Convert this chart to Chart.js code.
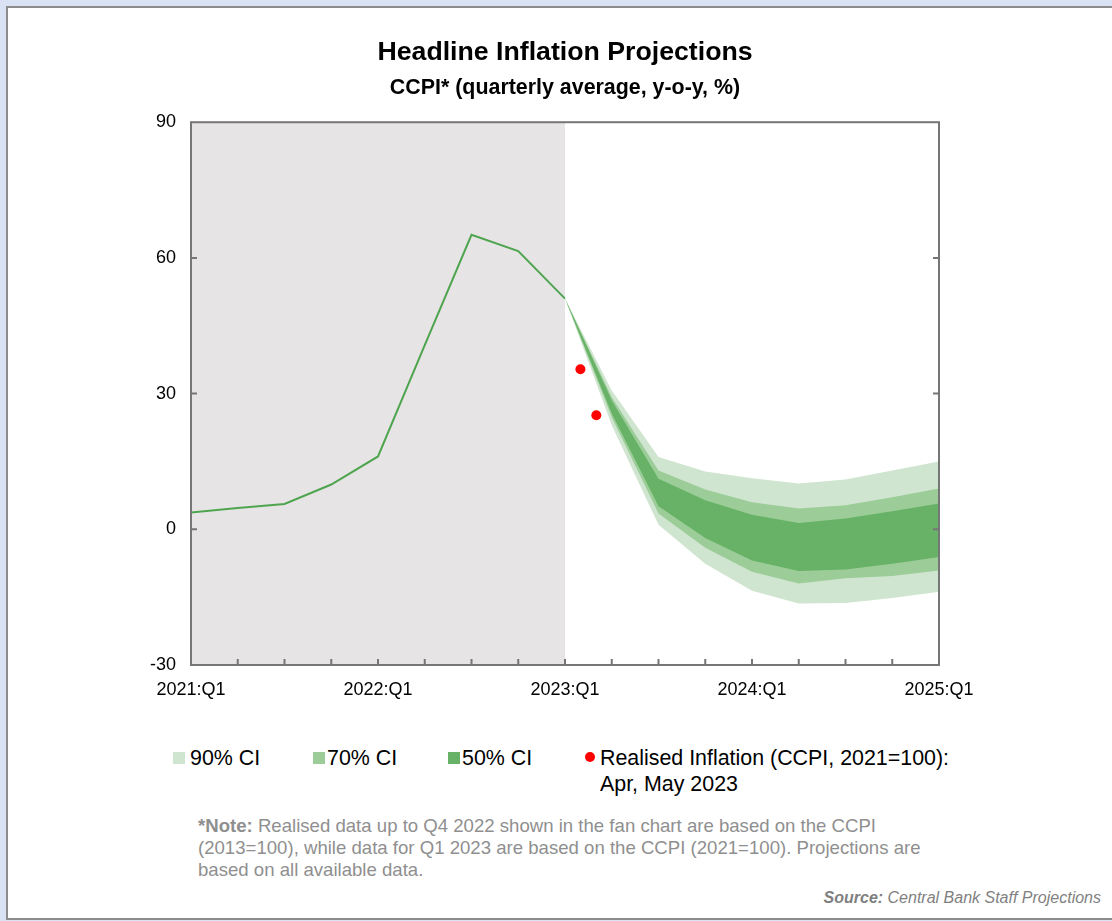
<!DOCTYPE html>
<html>
<head>
<meta charset="utf-8">
<title>Headline Inflation Projections</title>
<script src="https://cdn.jsdelivr.net/npm/chart.js@4.4.1/dist/chart.umd.min.js"></script>
<style>
  html, body { margin: 0; padding: 0; }
  body {
    width: 1112px; height: 921px; position: relative; overflow: hidden;
    background: #d9e2f3; font-family: "Liberation Sans", Arial, sans-serif;
  }
  .cadre {
    position: absolute; left: 6px; top: 6px; width: 1200px; height: 914px;
    background: #fff; border: 2px solid #8c8c8c; box-sizing: border-box;
  }
  #zoneGraph { position: absolute; left: 0; top: 0; width: 1112px; height: 720px; }
  .legende { position: absolute; font-size: 21.4px; line-height: 26px; color: #000; white-space: nowrap; }
  .carre { position: absolute; width: 12px; height: 12px; }
  .point { position: absolute; width: 10px; height: 10px; border-radius: 50%; background: #ff0000; }
  .note {
    position: absolute; left: 198px; top: 815px; font-size: 18.6px; line-height: 22px;
    color: #8f8f8f; white-space: nowrap;
  }
  .source {
    position: absolute; right: 11px; top: 889px; font-size: 16px; line-height: 18px;
    color: #7f7f7f; font-style: italic; white-space: nowrap;
  }
</style>
</head>
<body>
<div class="cadre"></div>
<div id="zoneGraph"><canvas id="graphInflation"></canvas></div>

<!-- Légende -->
<div class="carre" style="left:173px; top:752px; background:#cfe5cf;"></div>
<div class="legende" style="left:190px; top:745px;">90% CI</div>
<div class="carre" style="left:313px; top:752px; background:#9ccd99;"></div>
<div class="legende" style="left:327px; top:745px;">70% CI</div>
<div class="carre" style="left:448px; top:752px; background:#67b266;"></div>
<div class="legende" style="left:462px; top:745px;">50% CI</div>
<div class="point" style="left:585px; top:752px;"></div>
<div class="legende" style="left:600px; top:745px;">Realised Inflation (CCPI, 2021=100):<br>Apr, May 2023</div>

<div class="note"><b>*Note:</b> Realised data up to Q4 2022 shown in the fan chart are based on the CCPI<br>(2013=100), while data for Q1 2023 are based on the CCPI (2021=100). Projections are<br>based on all available data.</div>
<div class="source"><b>Source:</b> Central Bank Staff Projections</div>

<script>
// ==================== DONNÉES ====================

const quarters = [
  '2021:Q1', '2021:Q2', '2021:Q3', '2021:Q4',
  '2022:Q1', '2022:Q2', '2022:Q3', '2022:Q4',
  '2023:Q1', '2023:Q2', '2023:Q3', '2023:Q4',
  '2024:Q1', '2024:Q2', '2024:Q3', '2024:Q4',
  '2025:Q1'
];

// CCPI réalisé, 2021:Q1 -> 2023:Q1
const realised = [3.7, 4.7, 5.6, 9.9, 16.1, 40.7, 65.1, 61.5, 51.0];

// Bandes de projection, 2023:Q1 -> 2025:Q1
const fanStart = 8;
const ci90Upper = [51.0, 30.7, 16.0, 12.8, 11.3, 10.1, 11.0, 13.0, 15.0];
const ci70Upper = [51.0, 29.2, 13.0, 8.8, 6.0, 4.6, 5.3, 7.1, 9.0];
const ci50Upper = [51.0, 28.5, 11.2, 6.4, 3.2, 1.4, 2.4, 4.0, 5.7];
const ci50Lower = [51.0, 25.6, 5.1, -1.9, -6.9, -9.2, -8.9, -7.6, -6.1];
const ci70Lower = [51.0, 24.8, 3.5, -4.1, -9.4, -12.0, -10.8, -10.3, -9.1];
const ci90Lower = [51.0, 23.0, 1.0, -7.6, -13.6, -16.4, -16.3, -15.2, -13.8];

// Inflation mensuelle réalisée (avril, mai 2023)
const monthPos = [8.33, 8.67];
const monthValues = [35.4, 25.2];

const yTicks = [-30, 0, 30, 60, 90];

// ==================== PLUGIN CADRE ====================

const police = '"Liberation Sans", Arial, sans-serif';

const cadrePlugin = {
  id: 'cadre',
  beforeDatasetsDraw(chart) {
    // zone grisée des données réalisées
    const { ctx, chartArea: a, scales: { x } } = chart;
    const x0 = x.getPixelForValue(0);
    const x1 = x.getPixelForValue(fanStart);
    ctx.save();
    ctx.fillStyle = '#e6e4e4';
    ctx.fillRect(x0, a.top, x1 - x0, a.bottom - a.top);
    ctx.restore();
  },
  afterDatasetsDraw(chart) {
    const { ctx, chartArea: a, scales: { x, y } } = chart;
    ctx.save();
    ctx.strokeStyle = '#767676';
    ctx.lineWidth = 2;
    ctx.strokeRect(a.left, a.top, a.right - a.left, a.bottom - a.top);
    ctx.beginPath();
    for (let q = 1; q < quarters.length - 1; q++) {
      const px = x.getPixelForValue(q);
      ctx.moveTo(px, a.bottom);
      ctx.lineTo(px, a.bottom - 6);
    }
    yTicks.slice(1, -1).forEach(v => {
      const py = y.getPixelForValue(v);
      ctx.moveTo(a.left, py);
      ctx.lineTo(a.left + 6, py);
      ctx.moveTo(a.right, py);
      ctx.lineTo(a.right - 6, py);
    });
    ctx.stroke();
    ctx.restore();
  }
};

// ==================== GRAPHIQUE ====================

const versPoints = (valeurs, debut) => valeurs.map((v, i) => ({ x: debut + i, y: v }));

function bande(valeurs, couleur, remplir) {
  return {
    data: versPoints(valeurs, fanStart),
    borderWidth: 0,
    pointRadius: 0,
    backgroundColor: couleur,
    fill: remplir ? '+1' : false
  };
}

new Chart(document.getElementById('graphInflation'), {
  type: 'line',
  data: {
    datasets: [
      {
        data: versPoints(realised, 0),
        borderColor: '#4fa54f',
        borderWidth: 2,
        pointRadius: 0,
        fill: false
      },
      {
        data: monthPos.map((p, i) => ({ x: p, y: monthValues[i] })),
        showLine: false,
        pointRadius: 5,
        pointBackgroundColor: '#ff0000',
        pointBorderWidth: 0
      },
      bande(ci50Upper, '#67b266', true),
      bande(ci50Lower, '#67b266', false),
      bande(ci70Upper, '#9ccd99', true),
      bande(ci70Lower, '#9ccd99', false),
      bande(ci90Upper, '#cfe5cf', true),
      bande(ci90Lower, '#cfe5cf', false)
    ]
  },
  options: {
    responsive: true,
    maintainAspectRatio: false,
    animation: false,
    layout: { padding: { left: 0, right: 173, top: 0, bottom: 15 } },
    plugins: {
      legend: { display: false },
      tooltip: { enabled: false },
      title: {
        display: true,
        fullSize: false,
        text: 'Headline Inflation Projections',
        color: '#000',
        font: { family: police, size: 26.7, weight: 'bold' },
        padding: { top: 37, bottom: 6 }
      },
      subtitle: {
        display: true,
        fullSize: false,
        text: 'CCPI* (quarterly average, y-o-y, %)',
        color: '#000',
        font: { family: police, size: 21.4, weight: 'bold' },
        padding: { top: 0, bottom: 21.5 }
      }
    },
    scales: {
      x: {
        type: 'linear',
        min: 0,
        max: quarters.length - 1,
        grid: { display: false, drawTicks: false },
        border: { display: false },
        ticks: {
          stepSize: 4,
          autoSkip: false,
          maxRotation: 0,
          padding: 14,
          color: '#000',
          font: { family: police, size: 18 },
          callback: v => quarters[v]
        },
        afterFit: s => { s.height = 40; }
      },
      y: {
        min: yTicks[0],
        max: yTicks[yTicks.length - 1],
        grid: { display: false, drawTicks: false },
        border: { display: false },
        ticks: {
          stepSize: 30,
          padding: 15,
          color: '#000',
          font: { family: police, size: 18 }
        },
        afterFit: s => { s.width = 191; }
      }
    }
  },
  plugins: [cadrePlugin]
});
</script>
</body>
</html>
